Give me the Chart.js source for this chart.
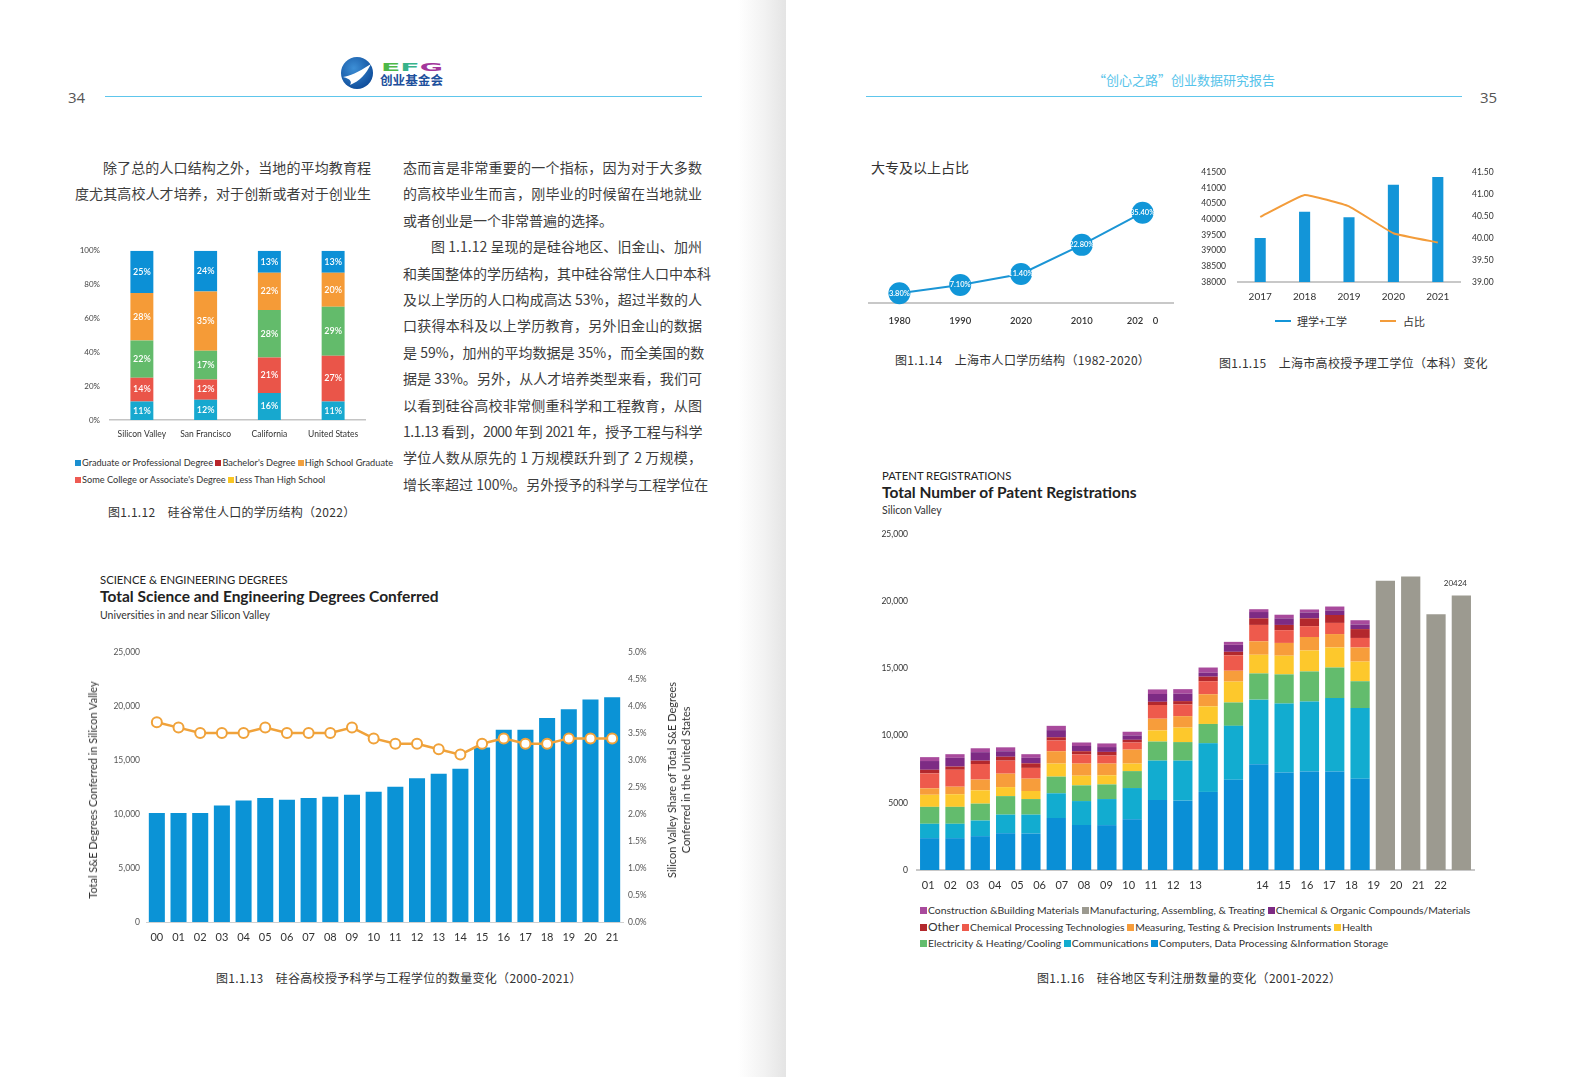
<!DOCTYPE html>
<html>
<head>
<meta charset="utf-8">
<script src="https://cdn.jsdelivr.net/npm/chart.js@4.4.1/dist/chart.umd.min.js"></script>
<style>
  body { margin: 0; width: 1587px; height: 1077px; position: relative; overflow: hidden; background: #fff;
         font-family: Lato, "Noto Sans CJK SC", sans-serif; color: #333; }
  .abs { position: absolute; }
  .gutter { left: 738px; top: 0; width: 48px; height: 1077px;
            background: linear-gradient(to right, #fff 0%, #f2f2f2 55%, #e4e4e4 100%); }
  .rule { height: 0; border-top: 1.5px solid #5ec6ec; }
  .pno { font-family: "Open Sans", sans-serif; font-size: 15px; color: #555; }
  .body-txt { font-family: "Noto Sans CJK SC", sans-serif; font-size: 14px; line-height: 26.4px; color: #3d3d3d; }
  .body-txt div { text-align: justify; text-align-last: justify; white-space: nowrap; }
  .body-txt div.end { text-align-last: left; }
  .body-txt div.ind { padding-left: 28px; }
  .cap { font-family: "Noto Sans CJK SC", sans-serif; font-size: 12px; color: #333; white-space: nowrap; letter-spacing: 0.3px; }
  .lg { font-size: 9.2px; color: #333; white-space: nowrap; }
  .lg i { display: inline-block; width: 6px; height: 6px; margin-right: 1px; vertical-align: 0px; }
  .plg { font-size: 10.4px; color: #333; white-space: nowrap; }
  .plg i { display: inline-block; width: 7px; height: 7px; margin-right: 1px; vertical-align: 0px; }
  .kick { font-size: 11.3px; color: #222; white-space: nowrap; }
  .ttl { font-size: 15.5px; font-weight: bold; color: #222; white-space: nowrap; }
  .sub { font-size: 10.5px; color: #333; white-space: nowrap; }
  .vt { font-size: 11px; color: #333; white-space: nowrap; text-align: center; line-height: 14px;
        transform: translate(-50%, -50%) rotate(-90deg); }
  canvas { position: absolute; }
</style>
</head>
<body>

<!-- page frame -->
<div class="abs gutter"></div>
<div class="abs pno" style="left:68px;top:87px;">34</div>
<div class="abs rule" style="left:105px;top:96px;width:597px;"></div>
<div class="abs rule" style="left:866px;top:96px;width:596px;"></div>
<div class="abs pno" style="left:1480px;top:87px;">35</div>
<div class="abs" style="left:1093px;top:70px;font-family:'Noto Sans CJK SC';font-size:13px;color:#56c3ea;white-space:nowrap;">“创心之路”创业数据研究报告</div>

<svg class="abs" style="left:339px;top:56px;" width="112" height="34">
  <defs>
    <radialGradient id="lg1" cx="40%" cy="35%" r="70%">
      <stop offset="0" stop-color="#3d8fd6"/><stop offset="1" stop-color="#0d4a98"/>
    </radialGradient>
  </defs>
  <circle cx="18" cy="17" r="16" fill="url(#lg1)"/>
  <path d="M4,21 C11,20 18,17 32,8 C27,18 21,25 11,29 C13,26 12,23 4,21 Z" fill="#fff"/>
  <text x="42" y="15" font-family="DejaVu Sans" font-weight="bold" font-size="11" textLength="62" lengthAdjust="spacingAndGlyphs">
    <tspan fill="#4db848">E</tspan><tspan fill="#37b38a">F</tspan><tspan fill="#a3369b">G</tspan>
  </text>
  <text x="41" y="29" font-family="Noto Sans CJK SC" font-weight="bold" font-size="12.5" fill="#1d4f9c" textLength="63" lengthAdjust="spacingAndGlyphs">创业基金会</text>
</svg>

<!-- body text -->
<div class="abs body-txt" style="left:75px;top:154px;width:296px;">
  <div class="ind">除了总的人口结构之外，当地的平均教育程</div>
  <div>度尤其高校人才培养，对于创新或者对于创业生</div>
</div>
<div class="abs body-txt" style="left:403px;top:154px;width:299px;">
  <div>态而言是非常重要的一个指标，因为对于大多数</div>
  <div>的高校毕业生而言，刚毕业的时候留在当地就业</div>
  <div class="end">或者创业是一个非常普遍的选择。</div>
  <div class="ind">图 1.1.12 呈现的是硅谷地区、旧金山、加州</div>
  <div>和美国整体的学历结构，其中硅谷常住人口中本科</div>
  <div>及以上学历的人口构成高达 53%，超过半数的人</div>
  <div>口获得本科及以上学历教育，另外旧金山的数据</div>
  <div>是 59%，加州的平均数据是 35%，而全美国的数</div>
  <div>据是 33%。另外，从人才培养类型来看，我们可</div>
  <div>以看到硅谷高校非常侧重科学和工程教育，从图</div>
  <div style="letter-spacing:-0.6px;">1.1.13 看到，2000 年到 2021 年，授予工程与科学</div>
  <div>学位人数从原先的 1 万规模跃升到了 2 万规模，</div>
  <div>增长率超过 100%。另外授予的科学与工程学位在</div>
</div>

<!-- fig 1.1.12 -->
<canvas id="c12" width="300" height="210" style="left:70px;top:236px;"></canvas>
<div class="abs lg" style="left:75px;top:457px;">
  <i style="background:#1a8fd0"></i>Graduate or Professional Degree <i style="background:#b8262c"></i>Bachelor's Degree <i style="background:#f0a040"></i>High School Graduate
</div>
<div class="abs lg" style="left:75px;top:474px;">
  <i style="background:#ee5a52"></i>Some College or Associate's Degree <i style="background:#f9c623"></i>Less Than High School
</div>
<div class="abs cap" style="left:108px;top:503px;">图1.1.12　硅谷常住人口的学历结构（2022）</div>

<!-- fig 1.1.13 -->
<div class="abs kick" style="left:100px;top:573px;">SCIENCE &amp; ENGINEERING DEGREES</div>
<div class="abs ttl" style="left:100px;top:587px;">Total Science and Engineering Degrees Conferred</div>
<div class="abs sub" style="left:100px;top:609px;">Universities in and near Silicon Valley</div>
<canvas id="c13" width="600" height="310" style="left:80px;top:640px;"></canvas>
<div class="abs vt" style="left:93px;top:790px;">Total S&amp;E Degrees Conferred in Silicon Valley</div>
<div class="abs vt" style="left:679px;top:780px;">Silicon Valley Share of Total S&amp;E Degrees<br>Conferred in the United States</div>
<div class="abs cap" style="left:216px;top:969px;">图1.1.13　硅谷高校授予科学与工程学位的数量变化（2000-2021）</div>

<!-- fig 1.1.14 -->
<div class="abs" style="left:871px;top:157px;font-family:'Noto Sans CJK SC';font-size:14px;color:#333;">大专及以上占比</div>
<canvas id="c14" width="326" height="143" style="left:858px;top:190px;"></canvas>
<div class="abs cap" style="left:895px;top:351px;">图1.1.14　上海市人口学历结构（1982-2020）</div>

<!-- fig 1.1.15 -->
<canvas id="c15" width="320" height="150" style="left:1190px;top:155px;"></canvas>
<div class="abs" style="left:1275px;top:320px;width:16px;height:2px;background:#1395d8;"></div>
<div class="abs" style="left:1297px;top:313px;font-family:'Noto Sans CJK SC';font-size:11px;color:#333;">理学+工学</div>
<div class="abs" style="left:1380px;top:320px;width:16px;height:2px;background:#f39c3a;"></div>
<div class="abs" style="left:1403px;top:313px;font-family:'Noto Sans CJK SC';font-size:11px;color:#333;">占比</div>
<div class="abs cap" style="left:1219px;top:354px;">图1.1.15　上海市高校授予理工学位（本科）变化</div>

<!-- fig 1.1.16 -->
<div class="abs kick" style="left:882px;top:469px;">PATENT REGISTRATIONS</div>
<div class="abs ttl" style="left:882px;top:483px;">Total Number of Patent Registrations</div>
<div class="abs sub" style="left:882px;top:504px;">Silicon Valley</div>
<canvas id="c16" width="610" height="380" style="left:870px;top:520px;"></canvas>
<div class="abs plg" style="left:920px;top:904px;">
  <i style="background:#a84a9c"></i>Construction &amp;Building Materials <i style="background:#9c9a90"></i>Manufacturing, Assembling, &amp; Treating <i style="background:#7d2b84"></i>Chemical &amp; Organic Compounds/Materials
</div>
<div class="abs plg" style="left:920px;top:919px;">
  <i style="background:#b3282d"></i><span style="font-size:12px">Other</span> <i style="background:#ee5a4c"></i>Chemical Processing Technologies <i style="background:#f79d3b"></i>Measuring, Testing &amp; Precision Instruments <i style="background:#fdc82c"></i>Health
</div>
<div class="abs plg" style="left:920px;top:937px;">
  <i style="background:#63bc6d"></i>Electricity &amp; Heating/Cooling <i style="background:#12acd0"></i>Communications <i style="background:#0a8fd6"></i>Computers, Data Processing &amp;Information Storage
</div>
<div class="abs cap" style="left:1037px;top:969px;">图1.1.16　硅谷地区专利注册数量的变化（2001-2022）</div>

<script>
// ? Data
// ? ==================================

// fig 1.1.12 - education mix (stack from bottom to top)
const eduCats = ["Silicon Valley", "San Francisco", "California", "United States"];
const eduSeg1 = [11, 12, 16, 11];
const eduSeg2 = [14, 12, 21, 27];
const eduSeg3 = [22, 17, 28, 29];
const eduSeg4 = [28, 35, 22, 20];
const eduSeg5 = [25, 24, 13, 13];
const eduTicks = ["0%", "20%", "40%", "60%", "80%", "100%"];

// fig 1.1.13 - S&E degrees
const seYears = ["00", "01", "02", "03", "04", "05", "06", "07", "08", "09", "10",
  "11", "12", "13", "14", "15", "16", "17", "18", "19", "20", "21"];
const seDegrees = [10100, 10100, 10100, 10780, 11240, 11480, 11330, 11480, 11600, 11790, 12060,
  12520, 13320, 13720, 14180, 16150, 17800, 17800, 18900, 19700, 20600, 20800];
const seShare = [3.7, 3.6, 3.5, 3.5, 3.5, 3.6, 3.5, 3.5, 3.5, 3.6, 3.4,
  3.3, 3.3, 3.2, 3.1, 3.3, 3.4, 3.3, 3.3, 3.4, 3.4, 3.4];
const seLeftTicks = ["0", "5,000", "10,000", "15,000", "20,000", "25,000"];
const seRightTicks = ["0.0%", "0.5%", "1.0%", "1.5%", "2.0%", "2.5%", "3.0%", "3.5%", "4.0%", "4.5%", "5.0%"];

// fig 1.1.14 - Shanghai college share
const shYears = ["1980", "1990", "2020", "2010", "202    0"];
const shShare = [3.8, 7.1, 11.4, 22.8, 35.4];
const shShareText = ["3.80%", "7.10%", "11.40%", "22.80%", "35.40%"];

// fig 1.1.15 - Shanghai science + engineering degrees
const stYears = ["2017", "2018", "2019", "2020", "2021"];
const stDegrees = [39400, 40240, 40060, 41100, 41340];
const stShare = [40.48, 40.98, 40.72, 40.11, 39.90];
const stLeftTicks = ["38000", "38500", "39000", "39500", "40000", "40500", "41000", "41500"];
const stRightTicks = ["39.00", "39.50", "40.00", "40.50", "41.00", "41.50"];

// fig 1.1.16 - patents (stack from bottom to top)
const pYears = ["2001", "2002", "2003", "2004", "2005", "2006", "2007", "2008", "2009", "2010", "2011",
  "2012", "2013", "2014", "2015", "2016", "2017", "2018", "2019", "2020", "2021", "2022"];
const pComputers = [2370, 2370, 2520, 2740, 2710, 3870, 3340, 3340, 3780, 5210, 5160, 5810, 6710, 7870, 7260, 7340, 7340, 6800, null, null, null, null];
const pComms = [1070, 1070, 1160, 1380, 1410, 1840, 1790, 1940, 2320, 2930, 2980, 3630, 4020, 4810, 5130, 5200, 5460, 5250, null, null, null, null];
const pElectric = [1260, 1260, 1260, 1380, 1160, 1240, 1170, 1090, 1260, 1420, 1380, 1430, 1740, 1950, 2170, 2240, 2270, 2000, null, null, null, null];
const pHealth = [900, 940, 990, 670, 600, 970, 720, 680, 560, 830, 1080, 1310, 1550, 1390, 1390, 1560, 1490, 1460, null, null, null, null];
const pMeasuring = [480, 560, 800, 1000, 920, 920, 900, 870, 1040, 870, 850, 900, 810, 1000, 950, 1000, 1000, 1050, null, null, null, null];
const pChemProc = [1110, 1260, 1160, 970, 800, 800, 680, 600, 530, 1020, 870, 970, 1150, 1220, 950, 810, 830, 710, null, null, null, null];
const pOther = [270, 240, 250, 290, 340, 240, 240, 270, 200, 240, 250, 340, 260, 490, 390, 580, 590, 660, null, null, null, null];
const pChemOrg = [650, 650, 630, 410, 410, 530, 390, 360, 330, 580, 550, 290, 520, 470, 490, 440, 340, 340, null, null, null, null];
const pConstruction = [290, 270, 290, 290, 270, 320, 260, 270, 270, 340, 340, 390, 220, 210, 270, 220, 290, 320, null, null, null, null];
const pManufacturing = [null, null, null, null, null, null, null, null, null, null, null,
  null, null, null, null, null, null, null, 21530, 21850, 19030, 20424];
const pTickLabels = ["01", "02", "03", "04", "05", "06", "07", "08", "09", "10", "11", "12", "13",
  "", "", "14", "15", "16", "17", "18", "19", "20", "21", "22", ""];
const pYTicks = ["0", "5000", "10,000", "15,000", "20,000", "25,000"];

// ? Defaults
// ? ==================================
Chart.defaults.font.family = "Lato, 'Noto Sans CJK SC', sans-serif";
Chart.defaults.color = "#555";
Chart.defaults.animation = false;
Chart.defaults.plugins.legend.display = false;
Chart.defaults.plugins.tooltip.enabled = false;

// white % text in the middle of each stacked segment
const segLabels = {
  id: "segLabels",
  afterDatasetsDraw(chart) {
    const ctx = chart.ctx;
    ctx.save();
    ctx.fillStyle = "#fff";
    ctx.font = "600 9px Lato";
    ctx.textAlign = "center";
    ctx.textBaseline = "middle";
    chart.data.datasets.forEach((ds, i) => {
      chart.getDatasetMeta(i).data.forEach((bar, j) => {
        const p = bar.getProps(["x", "y", "base"], true);
        ctx.fillText(ds.data[j] + "%", p.x, (p.y + p.base) / 2);
      });
    });
    ctx.restore();
  },
};

// labels inside the big round markers
const dotLabels = {
  id: "dotLabels",
  afterDatasetsDraw(chart) {
    const ctx = chart.ctx;
    ctx.save();
    ctx.fillStyle = "#fff";
    ctx.font = "600 7.5px Lato";
    ctx.textAlign = "center";
    ctx.textBaseline = "middle";
    chart.getDatasetMeta(0).data.forEach((pt, j) => {
      ctx.fillText(shShareText[j], pt.x, pt.y);
    });
    ctx.restore();
  },
};

// value above the last patent bar
const lastValue = {
  id: "lastValue",
  afterDatasetsDraw(chart) {
    const meta = chart.getDatasetMeta(chart.data.datasets.length - 1);
    const n = pManufacturing.length - 1;
    const bar = meta.data[n];
    const ctx = chart.ctx;
    ctx.save();
    ctx.fillStyle = "#333";
    ctx.font = "8px Lato";
    ctx.textAlign = "center";
    ctx.fillText(String(pManufacturing[n]), bar.x - 6, bar.y - 10);
    ctx.restore();
  },
};

const noGrid = { display: false, drawTicks: false };

// & fig 1.1.12
// & ============================
new Chart(document.getElementById("c12"), {
  type: "bar",
  data: {
    labels: eduCats,
    datasets: [
      { label: "seg1", data: eduSeg1, backgroundColor: "#17a8cf" },
      { label: "seg2", data: eduSeg2, backgroundColor: "#ea5549" },
      { label: "seg3", data: eduSeg3, backgroundColor: "#63bb6b" },
      { label: "seg4", data: eduSeg4, backgroundColor: "#f59b37" },
      { label: "seg5", data: eduSeg5, backgroundColor: "#0c90d6" },
    ],
  },
  options: {
    responsive: false,
    layout: { padding: { top: 6, right: 5 } },
    datasets: { bar: { categoryPercentage: 1, barPercentage: 0.36 } },
    scales: {
      x: {
        stacked: true, grid: noGrid,
        border: { color: "#c4c4c4", width: 1.5 },
        ticks: { font: { size: 8.5 }, color: "#333", padding: 9 },
        afterFit(s) { s.height = 26; },
      },
      y: {
        stacked: true, min: 0, max: 100, grid: noGrid, border: { display: false },
        ticks: { stepSize: 20, callback: (v, i) => eduTicks[i], font: { size: 8 }, color: "#444", padding: 10 },
        afterFit(s) { s.width = 40; },
      },
    },
  },
  plugins: [segLabels],
});

// & fig 1.1.13
// & ============================
new Chart(document.getElementById("c13"), {
  type: "bar",
  data: {
    labels: seYears,
    datasets: [
      {
        type: "line", label: "Share", data: seShare, yAxisID: "y1",
        borderColor: "#f0a23a", borderWidth: 2.5, tension: 0,
        pointRadius: 5, pointBackgroundColor: "#fff", pointBorderColor: "#f0a23a", pointBorderWidth: 2,
      },
      { label: "Degrees", data: seDegrees, yAxisID: "y", backgroundColor: "#0b93d6",
        categoryPercentage: 1, barPercentage: 0.74 },
    ],
  },
  options: {
    responsive: false,
    layout: { padding: { top: 12 } },
    scales: {
      x: {
        grid: noGrid, border: { color: "#d0d0d0", width: 1 },
        ticks: { font: { size: 11 }, color: "#333", padding: 9 },
        afterFit(s) { s.height = 28; },
      },
      y: {
        position: "left", min: 0, max: 25000, grid: noGrid, border: { display: false },
        ticks: { stepSize: 5000, callback: (v, i) => seLeftTicks[i], font: { size: 8.5 }, color: "#555", padding: 6 },
        afterFit(s) { s.width = 66; },
      },
      y1: {
        position: "right", min: 0, max: 5, grid: noGrid, border: { display: false },
        ticks: { stepSize: 0.5, callback: (v, i) => seRightTicks[i], font: { size: 8.5 }, color: "#555", padding: 5 },
        afterFit(s) { s.width = 57; },
      },
    },
  },
});

// & fig 1.1.14
// & ============================
new Chart(document.getElementById("c14"), {
  type: "line",
  data: {
    labels: shYears,
    datasets: [
      {
        label: "大专及以上占比", data: shShare, clip: false,
        borderColor: "#1b95d5", borderWidth: 2,
        pointRadius: 11, pointBackgroundColor: "#1196d8", pointBorderWidth: 0,
      },
    ],
  },
  options: {
    responsive: false,
    layout: { padding: { top: 9 } },
    scales: {
      x: {
        offset: true, grid: noGrid, border: { color: "#c8c8c8", width: 2 },
        ticks: { font: { size: 9.5, weight: "600" }, color: "#333", padding: 12 },
        afterFit(s) { s.height = 30; },
      },
      y: { display: false, min: 0, max: 40 },
    },
  },
  plugins: [dotLabels],
});

// & fig 1.1.15
// & ============================
new Chart(document.getElementById("c15"), {
  type: "bar",
  data: {
    labels: stYears,
    datasets: [
      { type: "line", label: "占比", data: stShare, yAxisID: "y1",
        borderColor: "#f39c3a", borderWidth: 2, pointRadius: 0, tension: 0.1 },
      { label: "理学+工学", data: stDegrees, yAxisID: "y", backgroundColor: "#1395d8",
        categoryPercentage: 1, barPercentage: 0.25 },
    ],
  },
  options: {
    responsive: false,
    layout: { padding: { top: 10 } },
    scales: {
      x: {
        grid: noGrid, border: { color: "#c8c8c8", width: 2 },
        ticks: { font: { size: 10 }, color: "#333", padding: 9 },
        afterFit(s) { s.height = 23; },
      },
      y: {
        position: "left", min: 38000, max: 41500, grid: noGrid, border: { display: false },
        ticks: { stepSize: 500, callback: (v, i) => stLeftTicks[i], font: { size: 8.5 }, color: "#333", padding: 12 },
        afterFit(s) { s.width = 48; },
      },
      y1: {
        position: "right", min: 39, max: 41.5, grid: noGrid, border: { display: false },
        ticks: { stepSize: 0.5, callback: (v, i) => stRightTicks[i], font: { size: 8.5 }, color: "#333", padding: 12 },
        afterFit(s) { s.width = 50; },
      },
    },
  },
});

// & fig 1.1.16
// & ============================
new Chart(document.getElementById("c16"), {
  type: "bar",
  data: {
    labels: pYears,
    datasets: [
      { label: "Computers, Data Processing &Information Storage", data: pComputers, backgroundColor: "#0a8fd6" },
      { label: "Communications", data: pComms, backgroundColor: "#12acd0" },
      { label: "Electricity & Heating/Cooling", data: pElectric, backgroundColor: "#63bc6d" },
      { label: "Health", data: pHealth, backgroundColor: "#fdc82c" },
      { label: "Measuring, Testing & Precision Instruments", data: pMeasuring, backgroundColor: "#f79d3b" },
      { label: "Chemical Processing Technologies", data: pChemProc, backgroundColor: "#ee5a4c" },
      { label: "Other", data: pOther, backgroundColor: "#b3282d" },
      { label: "Chemical & Organic Compounds/Materials", data: pChemOrg, backgroundColor: "#7d2b84" },
      { label: "Construction &Building Materials", data: pConstruction, backgroundColor: "#a84a9c" },
      { label: "Manufacturing, Assembling, & Treating", data: pManufacturing, backgroundColor: "#9c9a90" },
    ],
  },
  options: {
    responsive: false,
    layout: { padding: { top: 11, right: 6 } },
    datasets: { bar: { categoryPercentage: 1, barPercentage: 0.76 } },
    scales: {
      x: {
        stacked: true, grid: noGrid, border: { color: "#c8c8c8", width: 2 },
        ticks: { display: false },
        afterFit(s) { s.height = 0; },
      },
      xl: {
        type: "category", labels: pTickLabels, position: "bottom", offset: true, weight: 1,
        grid: noGrid, border: { display: false },
        ticks: { font: { size: 11 }, color: "#333", padding: 9, autoSkip: false, maxRotation: 0 },
        afterFit(s) { s.height = 30; },
      },
      y: {
        stacked: true, min: 0, max: 25000, grid: noGrid, border: { display: false },
        ticks: { stepSize: 5000, callback: (v, i) => pYTicks[i], font: { size: 8.5 }, color: "#333", padding: 9 },
        afterFit(s) { s.width = 47; },
      },
    },
  },
  plugins: [lastValue],
});
</script>
</body>
</html>
